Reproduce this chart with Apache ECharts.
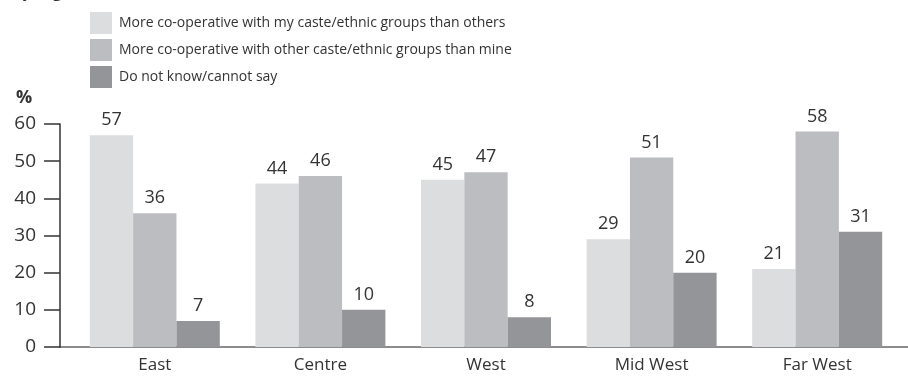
<!DOCTYPE html>
<html>
<head>
<meta charset="utf-8">
<script src="https://cdn.jsdelivr.net/npm/echarts@6/dist/echarts.min.js"></script>
<style>
  html, body { margin: 0; padding: 0; background: #fff; }
  #chart { width: 908px; height: 376px; }
</style>
</head>
<body>
<div id="chart"></div>
<script>
// Regions on the category axis
const regions = ['East', 'Centre', 'West', 'Mid West', 'Far West'];

// Share of respondents (%) per answer
const ownGroup = [57, 44, 45, 29, 21];
const otherGroups = [36, 46, 47, 51, 58];
const dontKnow = [7, 10, 8, 20, 31];

const seriesNames = [
  'More co-operative with my caste/ethnic groups than others',
  'More co-operative with other caste/ethnic groups than mine',
  'Do not know/cannot say'
];

const yTicks = [0, 10, 20, 30, 40, 50, 60];

const FONT = '"Open Sans", sans-serif';
const TEXT = '#333333';
const colors = ['#dcdddf', '#bcbdc0', '#949598'];

const chart = echarts.init(document.getElementById('chart'), null, { renderer: 'canvas' });

function barSeries(name, data, color) {
  return {
    name: name,
    type: 'bar',
    data: data,
    barGap: '0%',
    barCategoryGap: '21.5%',
    itemStyle: { color: color },
    label: {
      show: true,
      position: 'top',
      distance: 6,
      color: TEXT,
      fontFamily: FONT,
      fontSize: 18
    },
    emphasis: { disabled: true }
  };
}

chart.setOption({
  animation: false,
  textStyle: { fontFamily: FONT },
  title: {
    text: '(By region, cross-tabulation)',
    left: 2,
    top: -21,
    textStyle: { fontFamily: FONT, fontSize: 17, fontWeight: 'normal', color: TEXT }
  },
  legend: {
    orient: 'vertical',
    left: 90,
    top: 12,
    padding: 0,
    itemWidth: 22,
    itemHeight: 22,
    itemGap: 5,
    icon: 'rect',
    selectedMode: false,
    textStyle: { fontFamily: FONT, fontSize: 14, color: TEXT, padding: [0, 0, 0, 2] },
    data: seriesNames
  },
  grid: { left: 72, right: 8, top: 124, bottom: 29 },
  xAxis: {
    type: 'category',
    data: regions,
    axisLine: { lineStyle: { color: '#8c8c8c', width: 2 } },
    axisTick: { show: false },
    axisLabel: { color: TEXT, fontFamily: FONT, fontSize: 17, margin: 10 }
  },
  yAxis: {
    type: 'value',
    min: yTicks[0],
    max: yTicks[yTicks.length - 1],
    interval: 10,
    offset: 12,
    axisLine: { show: true, lineStyle: { color: '#333333', width: 1.5 } },
    axisTick: { show: true, length: 16, lineStyle: { color: '#333333', width: 1.5 } },
    axisLabel: { color: TEXT, fontFamily: FONT, fontSize: 19, margin: 24 },
    splitLine: { show: false }
  },
  series: [
    barSeries(seriesNames[0], ownGroup, colors[0]),
    barSeries(seriesNames[1], otherGroups, colors[1]),
    barSeries(seriesNames[2], dontKnow, colors[2])
  ]
});

// Unit label and the baseline stretched from the offset y-axis to the right edge
const zeroY = chart.convertToPixel({ yAxisIndex: 0 }, 0);
const topY = chart.convertToPixel({ yAxisIndex: 0 }, yTicks[yTicks.length - 1]);
chart.setOption({
  graphic: [
    {
      type: 'line',
      shape: { x1: 59, y1: zeroY, x2: 908, y2: zeroY },
      style: { stroke: '#8c8c8c', lineWidth: 2 },
      silent: true
    },
    {
      type: 'text',
      left: 16,
      top: topY - 35,
      style: { text: '%', font: 'bold 18px ' + FONT, fill: TEXT }
    }
  ]
});
</script>
</body>
</html>
